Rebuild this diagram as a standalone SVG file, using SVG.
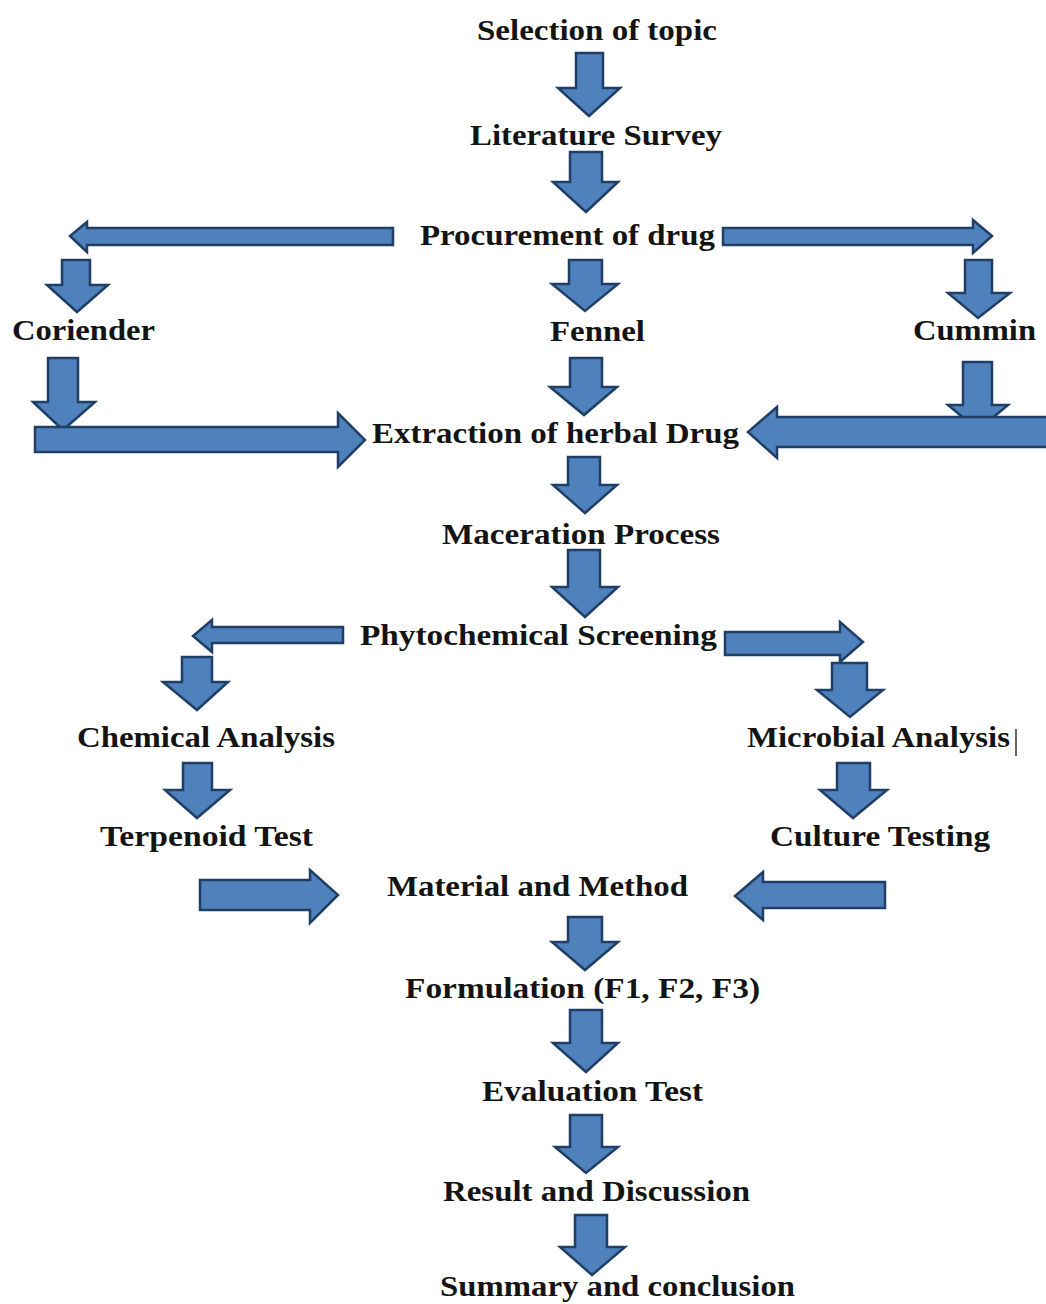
<svg xmlns="http://www.w3.org/2000/svg" width="1046" height="1304" viewBox="0 0 1046 1304">
<style>
.lbl{font-family:"Liberation Serif","Times New Roman",serif;font-weight:bold;font-size:30px;fill:#141414}
.arr{fill:#4f81bd;stroke:#203f66;stroke-width:2.5;stroke-linejoin:miter}
</style>
<rect width="1046" height="1304" fill="#ffffff"/>
<g id="connectors">
  <!-- central down arrows -->
  <path class="arr" d="M576,53 H603 V88 H620 L589,116 L558,88 H576 Z"/>
  <path class="arr" d="M570,152 H602 V182 H618 L586,212 L553,182 H570 Z"/>
  <path class="arr" d="M569,260 H602 V284 H618 L585,311 L552,284 H569 Z"/>
  <path class="arr" d="M570,358 H602 V387 H617 L584,415 L550,387 H570 Z"/>
  <path class="arr" d="M568,457 H600 V485 H617 L585,513 L553,485 H568 Z"/>
  <path class="arr" d="M568,550 H600 V587 H618 L585,617 L552,587 H568 Z"/>
  <path class="arr" d="M568,917 H602 V942 H618 L585,970 L552,942 H568 Z"/>
  <path class="arr" d="M570,1010 H602 V1043 H618 L586,1072 L553,1043 H570 Z"/>
  <path class="arr" d="M570,1115 H602 V1147 H618 L586,1173 L555,1147 H570 Z"/>
  <path class="arr" d="M575,1215 H607 V1247 H625 L592,1275 L560,1247 H575 Z"/>
  <!-- procurement branches -->
  <path class="arr" d="M393,228 V245 H87 V252 L70,236 L87,222 V228 Z"/>
  <path class="arr" d="M723,228 H973 V220 L992,236 L973,253 V245 H723 Z"/>
  <path class="arr" d="M62,260 H90 V285 H108 L77,312 L47,285 H62 Z"/>
  <path class="arr" d="M965,260 H992 V293 H1010 L978,318 L948,293 H965 Z"/>
  <!-- to extraction -->
  <path class="arr" d="M48,358 H78 V402 H95 L63,430 L33,402 H48 Z"/>
  <path class="arr" d="M35,427 H338 V413 L365,440 L338,467 V452 H35 Z"/>
  <path class="arr" d="M963,362 H992 V405 H1008 L978,430 L948,405 H963 Z"/>
  <path class="arr" d="M1050,417 H777 V407 L748,432 L777,458 V447 H1050 Z"/>
  <!-- phytochemical branches -->
  <path class="arr" d="M343,627 V643 H212 V652 L193,636 L212,620 V627 Z"/>
  <path class="arr" d="M725,632 H840 V622 L863,642 L840,662 V655 H725 Z"/>
  <path class="arr" d="M182,657 H212 V682 H228 L197,710 L163,682 H182 Z"/>
  <path class="arr" d="M832,663 H867 V690 H883 L850,717 L817,690 H832 Z"/>
  <path class="arr" d="M183,763 H212 V790 H230 L197,818 L165,790 H183 Z"/>
  <path class="arr" d="M837,763 H870 V790 H887 L853,818 L820,790 H837 Z"/>
  <!-- to material and method -->
  <path class="arr" d="M200,880 H310 V870 L338,895 L310,923 V910 H200 Z"/>
  <path class="arr" d="M885,882 H763 V872 L735,896 L763,920 V908 H885 Z"/>
</g>
<g id="n-selection"><text class="lbl" x="477" y="40" textLength="240" lengthAdjust="spacingAndGlyphs">Selection of topic</text></g>
<g id="n-literature"><text class="lbl" x="470" y="145" textLength="252" lengthAdjust="spacingAndGlyphs">Literature Survey</text></g>
<g id="n-procurement"><text class="lbl" x="420" y="245" textLength="295" lengthAdjust="spacingAndGlyphs">Procurement of drug</text></g>
<g id="n-coriender"><text class="lbl" x="12" y="340" textLength="143" lengthAdjust="spacingAndGlyphs">Coriender</text></g>
<g id="n-fennel"><text class="lbl" x="550" y="341" textLength="95" lengthAdjust="spacingAndGlyphs">Fennel</text></g>
<g id="n-cummin"><text class="lbl" x="913" y="340" textLength="123" lengthAdjust="spacingAndGlyphs">Cummin</text></g>
<g id="n-extraction"><text class="lbl" x="372" y="443" textLength="367" lengthAdjust="spacingAndGlyphs">Extraction of herbal Drug</text></g>
<g id="n-maceration"><text class="lbl" x="442" y="544" textLength="278" lengthAdjust="spacingAndGlyphs">Maceration Process</text></g>
<g id="n-phyto"><text class="lbl" x="360" y="645" textLength="357" lengthAdjust="spacingAndGlyphs">Phytochemical Screening</text></g>
<g id="n-chemical"><text class="lbl" x="77" y="747" textLength="258" lengthAdjust="spacingAndGlyphs">Chemical Analysis</text></g>
<g id="n-microbial"><text class="lbl" x="747" y="747" textLength="263" lengthAdjust="spacingAndGlyphs">Microbial Analysis</text><line x1="1016" y1="729" x2="1016" y2="756" stroke="#333" stroke-width="1.5"/></g>
<g id="n-terpenoid"><text class="lbl" x="100" y="846" textLength="213" lengthAdjust="spacingAndGlyphs">Terpenoid Test</text></g>
<g id="n-culture"><text class="lbl" x="770" y="846" textLength="220" lengthAdjust="spacingAndGlyphs">Culture Testing</text></g>
<g id="n-material"><text class="lbl" x="387" y="896" textLength="301" lengthAdjust="spacingAndGlyphs">Material and Method</text></g>
<g id="n-formulation"><text class="lbl" x="405" y="998" textLength="355" lengthAdjust="spacingAndGlyphs">Formulation (F1, F2, F3)</text></g>
<g id="n-evaluation"><text class="lbl" x="482" y="1101" textLength="221" lengthAdjust="spacingAndGlyphs">Evaluation Test</text></g>
<g id="n-result"><text class="lbl" x="443" y="1201" textLength="307" lengthAdjust="spacingAndGlyphs">Result and Discussion</text></g>
<g id="n-summary"><text class="lbl" x="440" y="1296" textLength="355" lengthAdjust="spacingAndGlyphs">Summary and conclusion</text></g>
</svg>
